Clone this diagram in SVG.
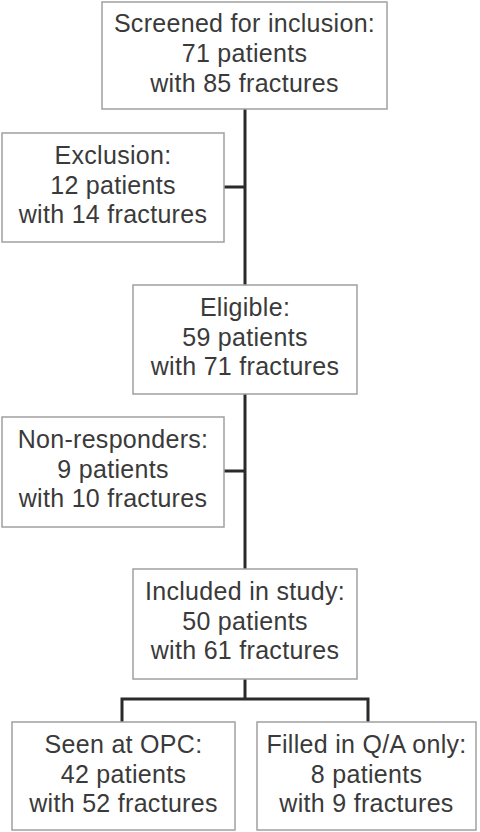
<svg xmlns="http://www.w3.org/2000/svg" width="480" height="832" viewBox="0 0 480 832">
<style>
.box{fill:#fff;stroke:#a0a0a0;stroke-width:1.5}
.t{font-family:"Liberation Sans",Arial,sans-serif;font-size:25px;fill:#3a3a3a;text-anchor:middle;letter-spacing:0.3px}
.c{fill:none;stroke:#2a2a2a;stroke-width:3}
</style>
<rect width="480" height="832" fill="#fff"/>
<g id="connectors">
<path class="c" d="M245 109V285M245 394V569M245 679V699M224 187H245M224 471H245M122 722V699H368V722"/>
</g>
<g id="screened">
<rect class="box" x="102" y="2" width="285" height="107"/>
<text class="t" x="244.5" y="32">Screened for inclusion:</text>
<text class="t" x="244.5" y="62">71 patients</text>
<text class="t" x="244.5" y="92">with 85 fractures</text>
</g>
<g id="exclusion">
<rect class="box" x="2" y="133" width="222" height="109"/>
<text class="t" x="113" y="164">Exclusion:</text>
<text class="t" x="113" y="194">12 patients</text>
<text class="t" x="113" y="223">with 14 fractures</text>
</g>
<g id="eligible">
<rect class="box" x="133" y="285" width="224" height="109"/>
<text class="t" x="245" y="316">Eligible:</text>
<text class="t" x="245" y="346">59 patients</text>
<text class="t" x="245" y="375">with 71 fractures</text>
</g>
<g id="nonresponders">
<rect class="box" x="2" y="417" width="222" height="110"/>
<text class="t" x="113" y="448">Non-responders:</text>
<text class="t" x="113" y="478">9 patients</text>
<text class="t" x="113" y="507">with 10 fractures</text>
</g>
<g id="included">
<rect class="box" x="133" y="569" width="224" height="110"/>
<text class="t" x="245" y="600">Included in study:</text>
<text class="t" x="245" y="630">50 patients</text>
<text class="t" x="245" y="659">with 61 fractures</text>
</g>
<g id="opc">
<rect class="box" x="12" y="722" width="223" height="108"/>
<text class="t" x="123.5" y="753">Seen at OPC:</text>
<text class="t" x="123.5" y="783">42 patients</text>
<text class="t" x="123.5" y="812">with 52 fractures</text>
</g>
<g id="qa">
<rect class="box" x="257" y="722" width="219" height="108"/>
<text class="t" x="366.5" y="753">Filled in Q/A only:</text>
<text class="t" x="366.5" y="783">8 patients</text>
<text class="t" x="366.5" y="812">with 9 fractures</text>
</g>
</svg>
